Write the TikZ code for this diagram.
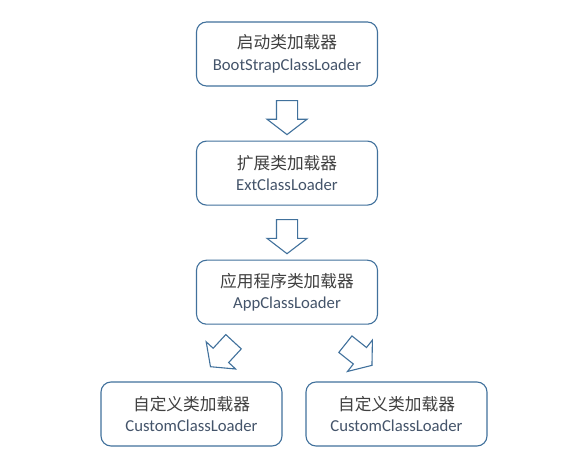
\documentclass[tikz,border=0pt]{standalone}
\usepackage{fontspec}
\setmainfont{Carlito}
\newfontfamily\cjk{Noto Sans CJK SC}
\usepackage{tikz}
\usetikzlibrary{positioning, calc, shapes.arrows}
\definecolor{boxline}{HTML}{41719C}
\definecolor{cntext}{HTML}{404040}
\definecolor{entext}{HTML}{44546A}

\newcommand{\loadertext}[2]{{\cjk\color{cntext}#1}\\{\color{entext}#2}}

\begin{document}
\begin{tikzpicture}[
    x=1pt, y=1pt,
    node distance=54pt,
    loader/.style={
        draw=boxline,
        line width=1.1pt,
        rounded corners=10pt,
        align=center,
        fill=white,
        inner sep=0pt,
        font=\fontsize{16.7}{21.5}\selectfont,
        minimum width=181pt,
        minimum height=64pt
    },
    blockarrow/.style={single arrow, draw=boxline, line width=1.1pt, fill=white,
        minimum height=34pt, inner sep=10pt,
        single arrow head extend=9.5pt, single arrow tip angle=105}
]
\useasboundingbox (0,0) rectangle (570,466);

\node[loader] (boot) at (287,412) {\loadertext{启动类加载器}{BootStrapClassLoader}};
\node[loader] (ext) [below=of boot] {\loadertext{扩展类加载器}{ExtClassLoader}};
\node[loader] (app) [below=of ext] {\loadertext{应用程序类加载器}{AppClassLoader}};
\node[loader] (customa) at (191.5,52) {\loadertext{自定义类加载器}{CustomClassLoader}};
\node[loader] (customb) at (396.5,52) {\loadertext{自定义类加载器}{CustomClassLoader}};

% hollow block arrows between the loaders
\node[blockarrow, rotate=-90] (bootext) at ($(boot.south)!0.5!(ext.north)$) {};
\node[blockarrow, rotate=-90] (extapp) at ($(ext.south)!0.5!(app.north)$) {};
\node[blockarrow, rotate=227.3] (appa) at (224.75,114.75) {};
\node[blockarrow, rotate=-38.5] (appb) at (355.5,113.75) {};

\end{tikzpicture}
\end{document}
